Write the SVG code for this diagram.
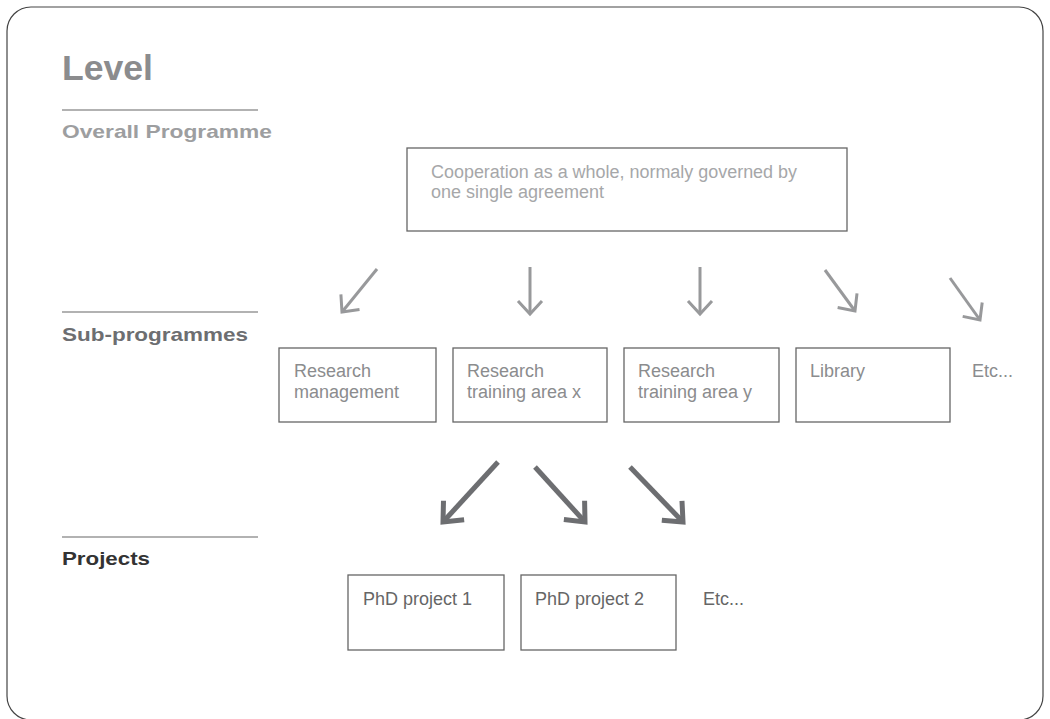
<svg xmlns="http://www.w3.org/2000/svg" width="1050" height="719" viewBox="0 0 1050 719">
<defs>
<style>
.frame{fill:#fff;stroke:#444;stroke-width:1.2}
.box{fill:#fff;stroke:#666;stroke-width:1.3}
.rule{stroke:#999;stroke-width:1.3}
.lvl{font-family:"Liberation Sans",Arial,sans-serif;font-weight:bold}
.t{font-family:"Liberation Sans",Arial,sans-serif;font-size:18px}
.a1{stroke:#98999b;stroke-width:3;fill:none;marker-end:url(#h1)}
.a2{stroke:#6d6e71;stroke-width:5;fill:none;marker-end:url(#h2)}
</style>
<marker id="h1" markerUnits="userSpaceOnUse" orient="auto" refX="0" refY="0" markerWidth="40" markerHeight="40" viewBox="-20 -20 40 40" overflow="visible">
<path d="M -13 -12 L 0 0 L -13 12" fill="none" stroke="#98999b" stroke-width="3"/>
</marker>
<marker id="h2" markerUnits="userSpaceOnUse" orient="auto" refX="0" refY="0" markerWidth="50" markerHeight="50" viewBox="-25 -25 50 50" overflow="visible">
<path d="M -16 -14 L 0 0 L -16 14" fill="none" stroke="#6d6e71" stroke-width="5"/>
</marker>
</defs>
<rect class="frame" x="7" y="7" width="1036" height="713" rx="24"/>

<g id="levels">
<text class="lvl" x="62" y="80" font-size="35" fill="#8b8c8e" textLength="91" lengthAdjust="spacingAndGlyphs">Level</text>
<line class="rule" x1="62" y1="110" x2="258" y2="110"/>
<text class="lvl" x="62" y="138" font-size="19" fill="#9d9ea0" textLength="210" lengthAdjust="spacingAndGlyphs">Overall Programme</text>
<line class="rule" x1="62" y1="312" x2="258" y2="312"/>
<text class="lvl" x="62" y="341" font-size="19" fill="#6d6e71" textLength="186" lengthAdjust="spacingAndGlyphs">Sub-programmes</text>
<line class="rule" x1="62" y1="537" x2="258" y2="537" stroke="#777"/>
<text class="lvl" x="62" y="565" font-size="19" fill="#333" textLength="88" lengthAdjust="spacingAndGlyphs">Projects</text>
</g>

<g id="overall">
<rect class="box" x="407" y="148" width="440" height="83"/>
<text class="t" x="431" y="178" fill="#a6a7a9" textLength="366" lengthAdjust="spacingAndGlyphs">Cooperation as a whole, normaly governed by</text>
<text class="t" x="431" y="198" fill="#a6a7a9">one single agreement</text>
</g>

<g id="sub1">
<rect class="box" x="279" y="348" width="157" height="74"/>
<text class="t" x="294" y="377" fill="#8b8c8e">Research</text>
<text class="t" x="294" y="398" fill="#8b8c8e">management</text>
</g>
<g id="sub2">
<rect class="box" x="453" y="348" width="154" height="74"/>
<text class="t" x="467" y="377" fill="#8b8c8e">Research</text>
<text class="t" x="467" y="398" fill="#8b8c8e">training area x</text>
</g>
<g id="sub3">
<rect class="box" x="624" y="348" width="155" height="74"/>
<text class="t" x="638" y="377" fill="#8b8c8e">Research</text>
<text class="t" x="638" y="398" fill="#8b8c8e">training area y</text>
</g>
<g id="sub4">
<rect class="box" x="796" y="348" width="154" height="74"/>
<text class="t" x="810" y="377" fill="#8b8c8e">Library</text>
</g>
<g id="sub5">
<text class="t" x="972" y="377" fill="#8b8c8e">Etc...</text>
</g>

<g id="proj1">
<rect class="box" x="348" y="575" width="156" height="75"/>
<text class="t" x="363" y="605" fill="#666">PhD project 1</text>
</g>
<g id="proj2">
<rect class="box" x="521" y="575" width="155" height="75"/>
<text class="t" x="535" y="605" fill="#666">PhD project 2</text>
</g>
<g id="proj3">
<text class="t" x="703" y="605" fill="#666">Etc...</text>
</g>

<g id="connectors">
<line class="a1" x1="377" y1="269" x2="342" y2="312"/>
<line class="a1" x1="530" y1="267" x2="530" y2="314"/>
<line class="a1" x1="700" y1="267" x2="700" y2="314"/>
<line class="a1" x1="825" y1="270" x2="855" y2="311"/>
<line class="a1" x1="950" y1="278" x2="980" y2="320"/>
<line class="a2" x1="498" y1="462" x2="443" y2="522"/>
<line class="a2" x1="535" y1="467" x2="585" y2="522"/>
<line class="a2" x1="630" y1="467" x2="683" y2="522"/>
</g>
</svg>
